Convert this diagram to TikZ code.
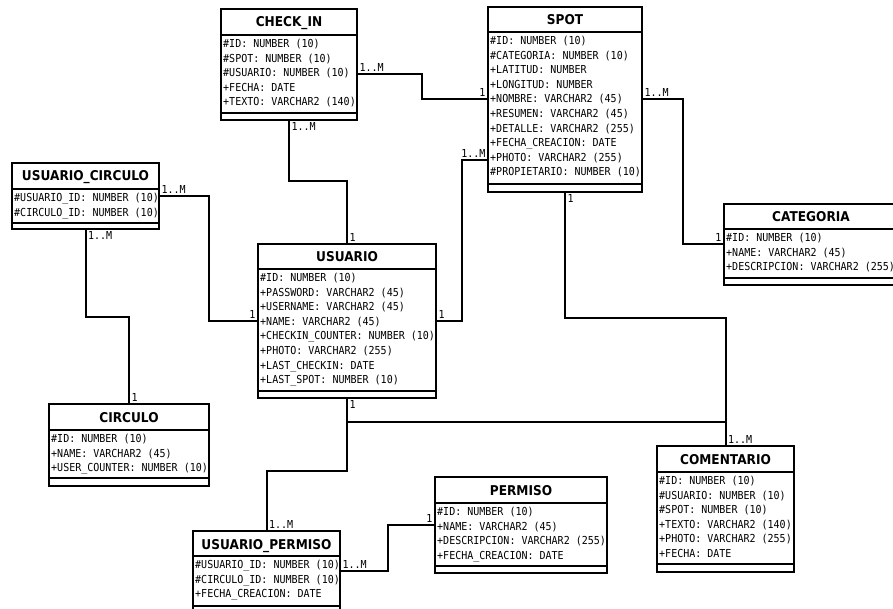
\documentclass[tikz,border=0pt]{standalone}
\usepackage{fontspec}
\newfontfamily\attrfont[FakeStretch=0.91]{DejaVu Sans Mono}
\newfontfamily\titlefont[FakeStretch=0.9]{DejaVu Sans}
\tikzset{entity/.style={draw=black,line width=1.8pt,anchor=north west,inner sep=0pt,outer sep=0pt}}
\tikzset{divider/.style={line width=1.8pt}}
\tikzset{title/.style={anchor=base,inner sep=0pt,font=\titlefont\bfseries\fontsize{13.5pt}{16pt}\selectfont}}
\tikzset{attrs/.style={anchor=north west,inner xsep=2pt,inner ysep=0pt,yshift=-2pt,align=left,font=\attrfont\fontsize{11pt}{14.6pt}\selectfont}}
\tikzset{relation/.style={line width=2pt}}
\tikzset{card/.style={inner sep=1.5pt,font=\attrfont\fontsize{11pt}{13pt}\selectfont}}

\begin{document}
\begin{tikzpicture}[x=1pt,y=-1pt]
	\useasboundingbox (0,0) rectangle (893,609);

	% CHECK_IN
	\node[entity,minimum width=136pt,minimum height=111pt] (checkin) at (221,9) {};
	\draw[divider] (checkin.west |- 0,35) -- (checkin.east |- 0,35) (checkin.west |- 0,113) -- (checkin.east |- 0,113);
	\node[title] at (checkin.north |- 0,27) {CHECK\_IN};
	\node[attrs] at (checkin.west |- 0,35) {\strut\#ID: NUMBER (10)\\\#SPOT: NUMBER (10)\\\#USUARIO: NUMBER (10)\\+FECHA: DATE\\+TEXTO: VARCHAR2 (140)};

	% SPOT
	\node[entity,minimum width=154pt,minimum height=185pt] (spot) at (488,7) {};
	\draw[divider] (spot.west |- 0,32) -- (spot.east |- 0,32) (spot.west |- 0,184) -- (spot.east |- 0,184);
	\node[title] at (spot.north |- 0,25) {SPOT};
	\node[attrs] at (spot.west |- 0,32) {\strut\#ID: NUMBER (10)\\\#CATEGORIA: NUMBER (10)\\+LATITUD: NUMBER\\+LONGITUD: NUMBER\\+NOMBRE: VARCHAR2 (45)\\+RESUMEN: VARCHAR2 (45)\\+DETALLE: VARCHAR2 (255)\\+FECHA\_CREACION: DATE\\+PHOTO: VARCHAR2 (255)\\\#PROPIETARIO: NUMBER (10)};

	% USUARIO_CIRCULO
	\node[entity,minimum width=147pt,minimum height=66pt] (usrcirculo) at (12,163) {};
	\draw[divider] (usrcirculo.west |- 0,189) -- (usrcirculo.east |- 0,189) (usrcirculo.west |- 0,223) -- (usrcirculo.east |- 0,223);
	\node[title] at (usrcirculo.north |- 0,181) {USUARIO\_CIRCULO};
	\node[attrs] at (usrcirculo.west |- 0,189) {\strut\#USUARIO\_ID: NUMBER (10)\\\#CIRCULO\_ID: NUMBER (10)};

	% USUARIO
	\node[entity,minimum width=178pt,minimum height=154pt] (usuario) at (258,244) {};
	\draw[divider] (usuario.west |- 0,269) -- (usuario.east |- 0,269) (usuario.west |- 0,391) -- (usuario.east |- 0,391);
	\node[title] at (usuario.north |- 0,262) {USUARIO};
	\node[attrs] at (usuario.west |- 0,269) {\strut\#ID: NUMBER (10)\\+PASSWORD: VARCHAR2 (45)\\+USERNAME: VARCHAR2 (45)\\+NAME: VARCHAR2 (45)\\+CHECKIN\_COUNTER: NUMBER (10)\\+PHOTO: VARCHAR2 (255)\\+LAST\_CHECKIN: DATE\\+LAST\_SPOT: NUMBER (10)};

	% CIRCULO
	\node[entity,minimum width=160pt,minimum height=82pt] (circulo) at (49,404) {};
	\draw[divider] (circulo.west |- 0,430) -- (circulo.east |- 0,430) (circulo.west |- 0,478) -- (circulo.east |- 0,478);
	\node[title] at (circulo.north |- 0,422) {CIRCULO};
	\node[attrs] at (circulo.west |- 0,430) {\strut\#ID: NUMBER (10)\\+NAME: VARCHAR2 (45)\\+USER\_COUNTER: NUMBER (10)};

	% USUARIO_PERMISO
	\node[entity,minimum width=147pt,minimum height=82pt] (usrpermiso) at (193,531) {};
	\draw[divider] (usrpermiso.west |- 0,556) -- (usrpermiso.east |- 0,556) (usrpermiso.west |- 0,606) -- (usrpermiso.east |- 0,606);
	\node[title] at (usrpermiso.north |- 0,549) {USUARIO\_PERMISO};
	\node[attrs] at (usrpermiso.west |- 0,556) {\strut\#USUARIO\_ID: NUMBER (10)\\\#CIRCULO\_ID: NUMBER (10)\\+FECHA\_CREACION: DATE};

	% PERMISO
	\node[entity,minimum width=172pt,minimum height=96pt] (permiso) at (435,477) {};
	\draw[divider] (permiso.west |- 0,503) -- (permiso.east |- 0,503) (permiso.west |- 0,566) -- (permiso.east |- 0,566);
	\node[title] at (permiso.north |- 0,495) {PERMISO};
	\node[attrs] at (permiso.west |- 0,503) {\strut\#ID: NUMBER (10)\\+NAME: VARCHAR2 (45)\\+DESCRIPCION: VARCHAR2 (255)\\+FECHA\_CREACION: DATE};

	% COMENTARIO
	\node[entity,minimum width=137pt,minimum height=126pt] (comentario) at (657,446) {};
	\draw[divider] (comentario.west |- 0,472) -- (comentario.east |- 0,472) (comentario.west |- 0,564) -- (comentario.east |- 0,564);
	\node[title] at (comentario.north |- 0,464) {COMENTARIO};
	\node[attrs] at (comentario.west |- 0,472) {\strut\#ID: NUMBER (10)\\\#USUARIO: NUMBER (10)\\\#SPOT: NUMBER (10)\\+TEXTO: VARCHAR2 (140)\\+PHOTO: VARCHAR2 (255)\\+FECHA: DATE};

	% CATEGORIA (runs past the right edge)
	\node[entity,minimum width=174pt,minimum height=81pt] (categoria) at (724,204) {};
	\draw[divider] (categoria.west |- 0,229) -- (categoria.east |- 0,229) (categoria.west |- 0,278) -- (categoria.east |- 0,278);
	\node[title] at (categoria.north |- 0,222) {CATEGORIA};
	\node[attrs] at (categoria.west |- 0,229) {\strut\#ID: NUMBER (10)\\+NAME: VARCHAR2 (45)\\+DESCRIPCION: VARCHAR2 (255)};

	% relations with their cardinalities
	\draw[relation] (checkin.east |- 0,74) node[card,anchor=south west] {1..M} -| (422,99) -- (spot.west |- 0,99) node[card,anchor=south east] {1};
	\draw[relation] (checkin.south) node[card,anchor=north west] {1..M} -- (checkin.south |- 0,181) -| (usuario.north) node[card,anchor=south west] {1};
	\draw[relation] (spot.west |- 0,160) node[card,anchor=south east] {1..M} -| (462,321) -- (usuario.east |- 0,321) node[card,anchor=south west] {1};
	\draw[relation] (spot.east |- 0,99) node[card,anchor=south west] {1..M} -| (683,244) -- (categoria.west |- 0,244) node[card,anchor=south east] {1};
	\draw[relation] (spot.south) node[card,anchor=north west] {1} -- (spot.south |- 0,318) -| (comentario.north) node[card,anchor=south west] {1..M};
	\draw[relation] (usuario.south) node[card,anchor=north west] {1} -- (usuario.south |- 0,422) -| (comentario.north);
	\draw[relation] (usuario.south) -- (usuario.south |- 0,471) -| (usrpermiso.north) node[card,anchor=south west] {1..M};
	\draw[relation] (usrcirculo.east |- 0,196) node[card,anchor=south west] {1..M} -| (209,321) -- (usuario.west |- 0,321) node[card,anchor=south east] {1};
	\draw[relation] (usrcirculo.south) node[card,anchor=north west] {1..M} -- (usrcirculo.south |- 0,317) -| (circulo.north) node[card,anchor=south west] {1};
	\draw[relation] (usrpermiso.east |- 0,571) node[card,anchor=south west] {1..M} -| (388,525) -- (permiso.west |- 0,525) node[card,anchor=south east] {1};

\end{tikzpicture}
\end{document}
